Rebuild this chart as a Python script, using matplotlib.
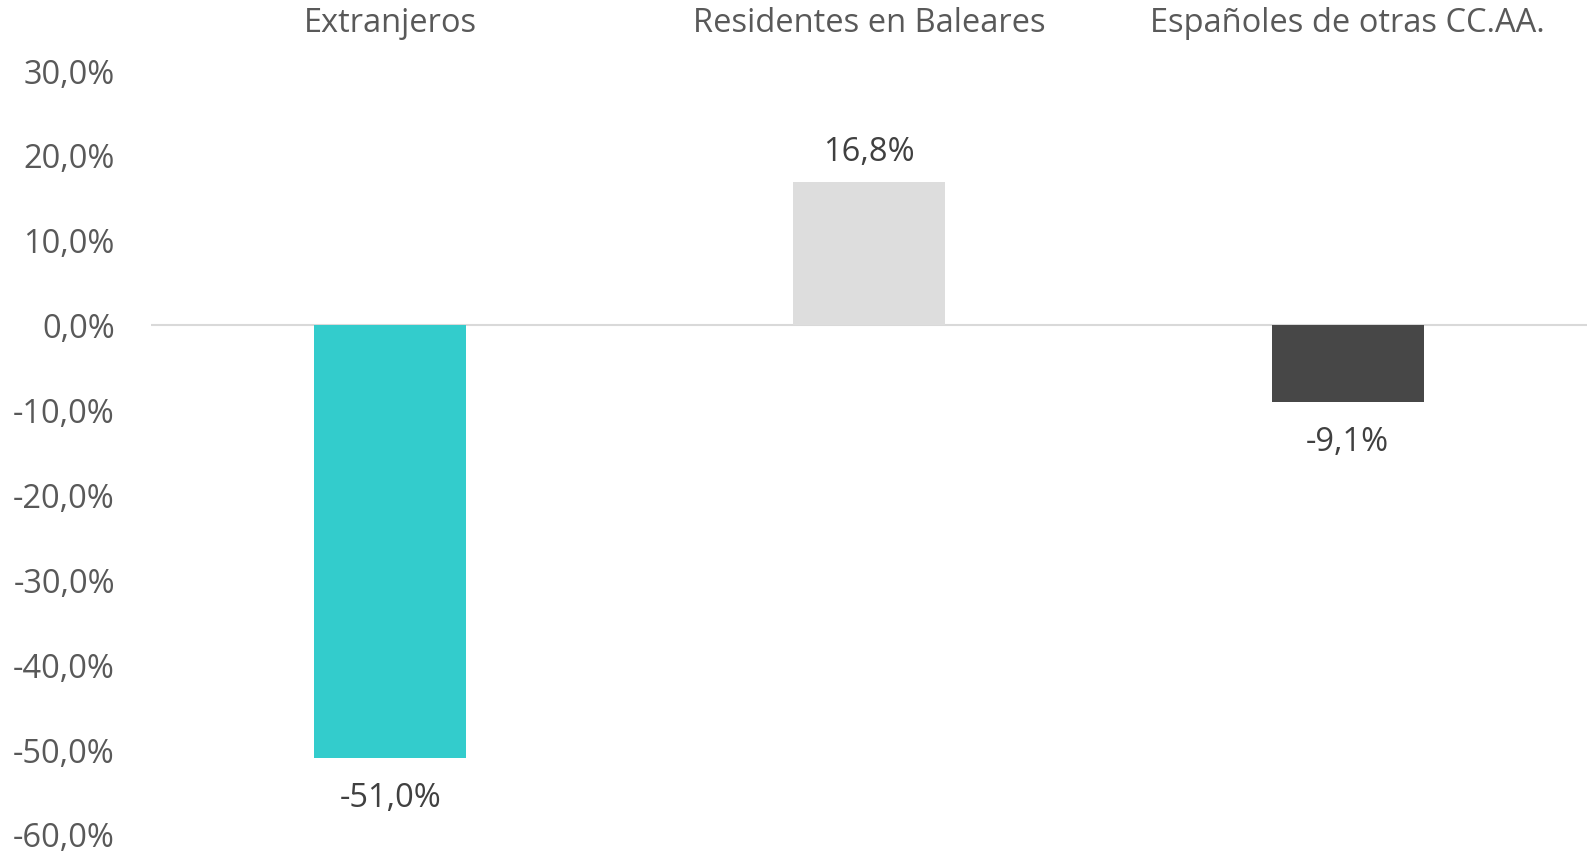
import numpy as np
import matplotlib
matplotlib.use('Agg')
import matplotlib.pyplot as plt

# Chart data
categories = ['Extranjeros', 'Residentes en Baleares', 'Españoles de otras CC.AA.']
values = [-51.0, 16.8, -9.1]
value_labels = ['-51,0%', '16,8%', '-9,1%']
bar_colors = ['#33CCCC', '#DDDDDD', '#474747']
y_ticks = [30, 20, 10, 0, -10, -20, -30, -40, -50, -60]

plt.rcParams['font.family'] = ['Open Sans', 'DejaVu Sans']

fig = plt.figure(figsize=(15.87, 8.53), dpi=100)
ax = fig.add_axes([151 / 1587, 18 / 853, 1 - 151 / 1587, (835 - 71) / 853])

x = np.arange(len(categories))
ax.bar(x, values, width=0.317, color=bar_colors, zorder=2)
ax.axhline(0, color='#D9D9D9', linewidth=1.5, zorder=1)

ax.set_xlim(-0.5, 2.5)
ax.set_ylim(-60, 30)
ax.set_yticks(y_ticks)
ax.set_yticklabels([f'{t:.1f}%'.replace('.', ',') for t in y_ticks])
ax.tick_params(axis='y', length=0, pad=26, labelsize=23.5, labelcolor='#595959')
ax.set_xticks([])

for side in ['top', 'right', 'bottom', 'left']:
    ax.spines[side].set_visible(False)

# Category names above the plot
for i, name in enumerate(categories):
    ax.annotate(name, xy=(i, 1.0), xycoords=('data', 'axes fraction'),
                xytext=(0, 47), textcoords='offset pixels',
                ha='center', va='center', fontsize=23.5, color='#595959')

# Value labels
for i, (v, lab) in enumerate(zip(values, value_labels)):
    off = 31 if v > 0 else -40
    ax.annotate(lab, xy=(i, v), xytext=(0, off), textcoords='offset pixels',
                ha='center', va='center', fontsize=23.5, color='#404040')

fig.savefig('out.png', dpi=100)
